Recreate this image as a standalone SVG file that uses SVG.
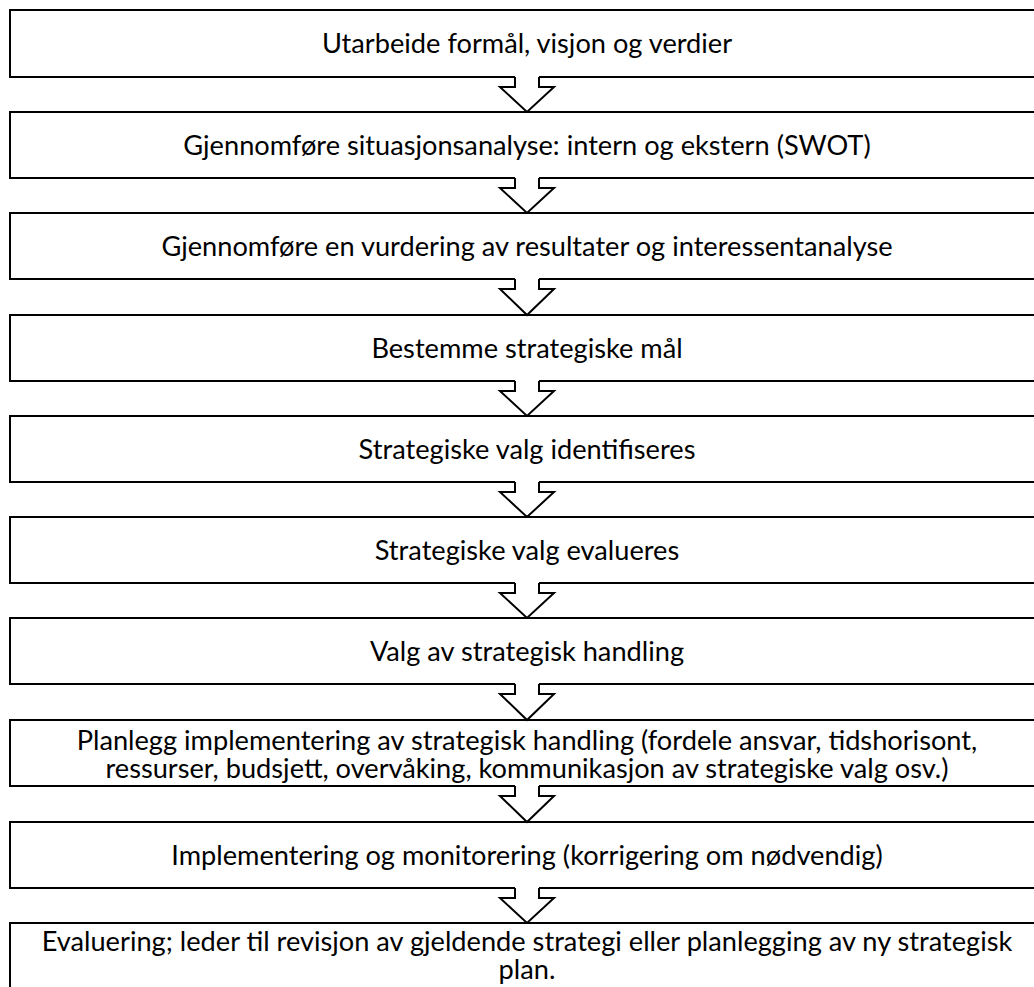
<svg xmlns="http://www.w3.org/2000/svg" width="1034" height="987" viewBox="0 0 1034 987">
<style>
.box{fill:#fff;stroke:#000;stroke-width:2}
.t{font-family:Lato,"Liberation Sans",sans-serif;font-size:27.2px;fill:#000;text-anchor:middle}
.af{fill:#fff;stroke:none}
.ao{fill:none;stroke:#000;stroke-width:2;stroke-linejoin:miter}
</style>
<rect width="1034" height="987" fill="#fff"/>
<g id="n1"><rect class="box" x="10" y="10" width="1040" height="67"/><text class="t" x="527" y="53">Utarbeide formål, visjon og verdier</text></g>
<g id="n2"><rect class="box" x="10" y="112" width="1040" height="66"/><text class="t" x="527" y="155">Gjennomføre situasjonsanalyse: intern og ekstern (SWOT)</text></g>
<g id="n3"><rect class="box" x="10" y="213" width="1040" height="66"/><text class="t" x="527" y="256">Gjennomføre en vurdering av resultater og interessentanalyse</text></g>
<g id="n4"><rect class="box" x="10" y="315" width="1040" height="66"/><text class="t" x="527" y="358">Bestemme strategiske mål</text></g>
<g id="n5"><rect class="box" x="10" y="416" width="1040" height="66"/><text class="t" x="527" y="459">Strategiske valg identifiseres</text></g>
<g id="n6"><rect class="box" x="10" y="517" width="1040" height="66"/><text class="t" x="527" y="560">Strategiske valg evalueres</text></g>
<g id="n7"><rect class="box" x="10" y="618" width="1040" height="66"/><text class="t" x="527" y="661">Valg av strategisk handling</text></g>
<g id="n8"><rect class="box" x="10" y="720" width="1040" height="66"/><text class="t" x="527" y="750">Planlegg implementering av strategisk handling (fordele ansvar, tidshorisont,</text><text class="t" x="527" y="778">ressurser, budsjett, overvåking, kommunikasjon av strategiske valg osv.)</text></g>
<g id="n9"><rect class="box" x="10" y="822" width="1040" height="66"/><text class="t" x="527" y="865">Implementering og monitorering (korrigering om nødvendig)</text></g>
<g id="n10"><rect class="box" x="10" y="923" width="1040" height="100"/><text class="t" x="527" y="951">Evaluering; leder til revisjon av gjeldende strategi eller planlegging av ny strategisk</text><text class="t" x="527" y="979">plan.</text></g>
<g id="connectors">
<path class="af" d="M515,76 V87 H500 L527,112 L554,87 H539 V76 Z"/><path class="ao" d="M515,77 V87 H500 L527,112 L554,87 H539 V77"/>
<path class="af" d="M515,177 V188 H500 L527,213 L554,188 H539 V177 Z"/><path class="ao" d="M515,178 V188 H500 L527,213 L554,188 H539 V178"/>
<path class="af" d="M515,278 V289 H500 L527,315 L554,289 H539 V278 Z"/><path class="ao" d="M515,279 V289 H500 L527,315 L554,289 H539 V279"/>
<path class="af" d="M515,380 V391 H500 L527,416 L554,391 H539 V380 Z"/><path class="ao" d="M515,381 V391 H500 L527,416 L554,391 H539 V381"/>
<path class="af" d="M515,481 V492 H500 L527,517 L554,492 H539 V481 Z"/><path class="ao" d="M515,482 V492 H500 L527,517 L554,492 H539 V482"/>
<path class="af" d="M515,582 V593 H500 L527,618 L554,593 H539 V582 Z"/><path class="ao" d="M515,583 V593 H500 L527,618 L554,593 H539 V583"/>
<path class="af" d="M515,683 V694 H500 L527,720 L554,694 H539 V683 Z"/><path class="ao" d="M515,684 V694 H500 L527,720 L554,694 H539 V684"/>
<path class="af" d="M515,785 V796 H500 L527,822 L554,796 H539 V785 Z"/><path class="ao" d="M515,786 V796 H500 L527,822 L554,796 H539 V786"/>
<path class="af" d="M515,887 V898 H500 L527,923 L554,898 H539 V887 Z"/><path class="ao" d="M515,888 V898 H500 L527,923 L554,898 H539 V888"/>
</g>
</svg>
